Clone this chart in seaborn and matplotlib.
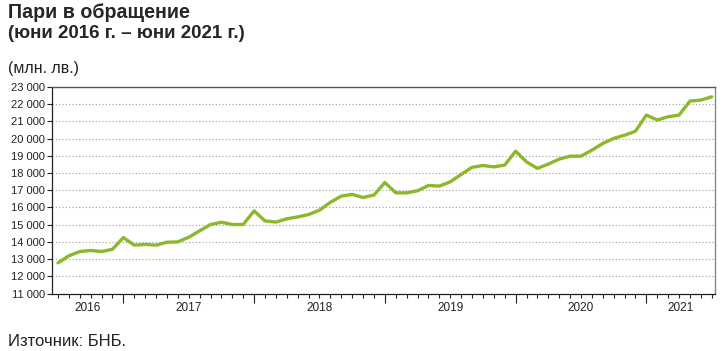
import numpy as np
import pandas as pd
import matplotlib
matplotlib.use("Agg")
import matplotlib.pyplot as plt
import matplotlib.ticker as mticker
import matplotlib.transforms as mtransforms
import seaborn as sns

# ---- data (млн. лв.), monthly June 2016 – June 2021 ----
months = pd.date_range("2016-06-01", "2021-06-01", freq="MS")
values = [12780, 13190, 13440, 13500, 13440, 13570, 14250,
          13810, 13850, 13810, 13980, 14000, 14270, 14640, 15010, 15140, 15010, 15010, 15800,
          15220, 15150, 15340, 15450, 15590, 15840, 16300, 16660, 16760, 16580, 16720, 17450,
          16850, 16850, 16970, 17280, 17240, 17490, 17920, 18330, 18440, 18360, 18460, 19270,
          18650, 18270, 18520, 18810, 18980, 18980, 19330, 19720, 20010, 20200, 20430, 21370,
          21080, 21270, 21370, 22180, 22240, 22430]
year_labels = ["2016", "2017", "2018", "2019", "2020", "2021"]
y_ticks = list(range(11000, 23001, 1000))

title_lines = ["Пари в обращение", "(юни 2016 г. – юни 2021 г.)"]
unit_label = "(млн. лв.)"
source_label = "Източник: БНБ."

df = pd.DataFrame({"idx": np.arange(len(months)), "month": months, "value": values})

sns.set_style("white")
plt.rcParams["font.family"] = ["Liberation Sans", "DejaVu Sans"]

fig = plt.figure(figsize=(7.28, 3.51), dpi=100)
ax = fig.add_axes([52 / 728, 1 - 293.5 / 351, (715 - 52) / 728, (293.5 - 87) / 351])

sns.lineplot(data=df, x="idx", y="value", ax=ax, color="#8CB82B", linewidth=2.4, zorder=3)

ax.set_xlim(-0.55, 60.3)
ax.set_ylim(11000, 23000)
ax.set_xlabel("")
ax.set_ylabel("")

# y axis
ax.set_yticks(y_ticks)
ax.yaxis.set_major_formatter(mticker.FuncFormatter(lambda v, p: f"{int(v):,}".replace(",", " ")))
ax.tick_params(axis="y", which="major", direction="out", length=3.5, width=0.8,
               labelsize=8, pad=1.5, colors="#222222", left=True)
for yv in y_ticks[1:-1]:
    ax.axhline(yv, color="#9a9a9a", linestyle=(0, (1, 2)), linewidth=0.8, zorder=1)

# x axis: monthly minor ticks, December major ticks
dec_idx = [i for i, m in enumerate(months) if m.month == 12]
ax.set_xticks(dec_idx)
ax.set_xticklabels([])
ax.set_xticks([i for i in range(len(months)) if i not in dec_idx], minor=True)
ax.tick_params(axis="x", which="major", direction="out", length=6.5, width=0.8, colors="#222222", bottom=True)
ax.tick_params(axis="x", which="minor", direction="out", length=3, width=0.8, colors="#222222", bottom=True)

bounds = [ax.get_xlim()[0]] + dec_idx + [ax.get_xlim()[1]]
trans = mtransforms.blended_transform_factory(ax.transData, ax.transAxes)
for k, lab in enumerate(year_labels):
    mid = (bounds[k] + bounds[k + 1]) / 2
    ax.text(mid, -0.042, lab, transform=trans, ha="center", va="top", fontsize=8.5, color="#222222")

for side, col, lw in [("left", "#222222", 0.9), ("bottom", "#222222", 0.9),
                      ("top", "#555555", 1.0), ("right", "#888888", 1.0)]:
    ax.spines[side].set_visible(True)
    ax.spines[side].set_color(col)
    ax.spines[side].set_linewidth(lw)

# texts
fig.text(8 / 728, 1 - 18 / 351, title_lines[0], fontsize=14.1, fontweight="bold", ha="left", va="baseline")
fig.text(8 / 728, 1 - 38.5 / 351, title_lines[1], fontsize=13.5, fontweight="bold", ha="left", va="baseline")
fig.text(8 / 728, 1 - 73.5 / 351, unit_label, fontsize=11.4, ha="left", va="baseline", color="#222222")
fig.text(8 / 728, 1 - 346 / 351, source_label, fontsize=12, ha="left", va="baseline", color="#222222")

fig.savefig("out.png", dpi=100)
